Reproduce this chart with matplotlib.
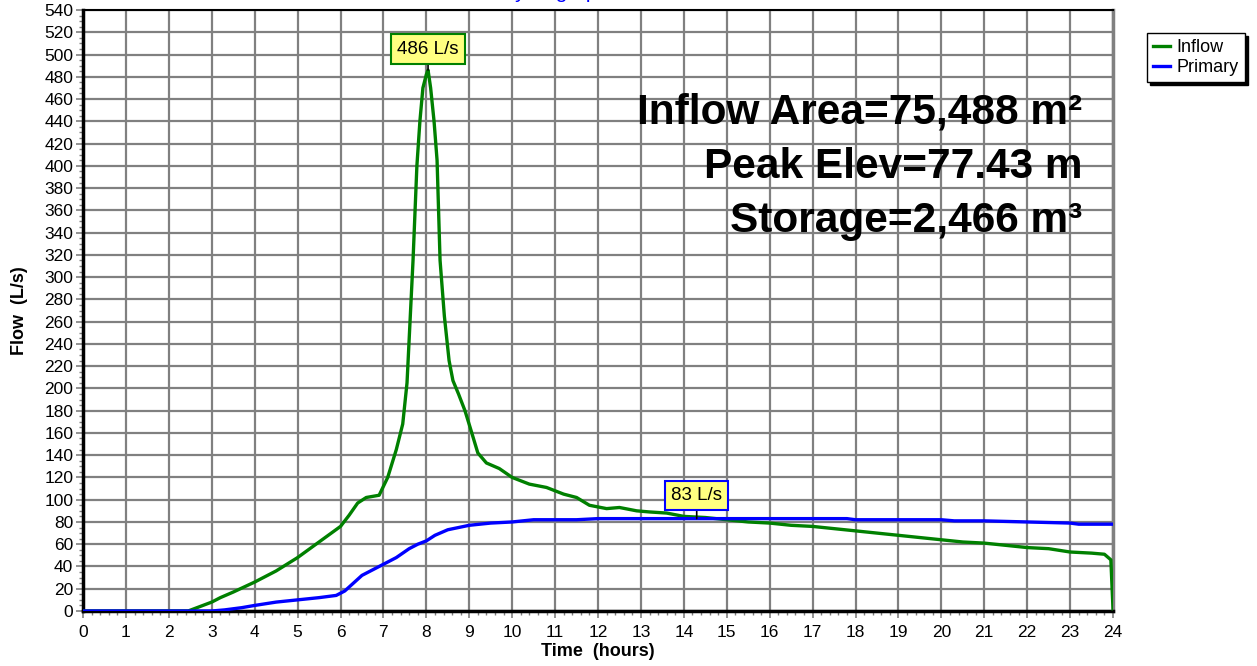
import numpy as np
import matplotlib.pyplot as plt
from matplotlib.ticker import MultipleLocator

plt.rcParams['font.family'] = ['Liberation Sans', 'DejaVu Sans']

# inflow hydrograph (hours, L/s)
inflow_t = [0, 2.45, 3.0, 3.2, 3.5, 4.0, 4.5, 5.0, 5.5, 6.0, 6.2, 6.4, 6.6, 6.9,
            7.1, 7.3, 7.45, 7.55, 7.62, 7.69, 7.78, 7.85, 7.92, 8.0, 8.04,
            8.1, 8.18, 8.25, 8.32, 8.42, 8.53, 8.62, 8.75, 8.9, 9.02, 9.2,
            9.4, 9.7, 10.0, 10.4, 10.8, 11.2, 11.5, 11.8, 12.2, 12.5, 12.9,
            13.2, 13.6, 14.0, 14.5, 15.0, 15.5, 16.0, 16.5, 17.0, 17.5, 18.0,
            18.5, 19.0, 19.5, 20.0, 20.5, 21.0, 21.5, 22.0, 22.5, 23.0, 23.5,
            23.8, 23.95, 24.0]
inflow_q = [0, 0, 8, 12, 17, 26, 36, 48, 62, 76, 86, 97, 102, 104,
            120, 145, 168, 205, 260, 315, 400, 440, 470, 482, 486,
            470, 440, 405, 315, 265, 225, 207, 195, 180, 165, 142,
            133, 128, 120, 114, 111, 105, 102, 95, 92, 93, 90,
            89, 88, 85, 84, 82, 80, 79, 77, 76, 74, 72,
            70, 68, 66, 64, 62, 61, 59, 57, 56, 53, 52,
            51, 46, 2]

# primary outflow
primary_t = [0, 3.0, 3.3, 3.7, 4.0, 4.5, 5.0, 5.5, 5.9, 6.1, 6.3, 6.5, 6.8, 7.0,
             7.3, 7.6, 7.8, 8.0, 8.2, 8.5, 9.0, 9.5, 10.0, 10.5, 11.0, 11.5,
             12.0, 13.0, 14.0, 14.3, 15.0, 16.0, 17.0, 17.8, 18.0, 19.0, 20.0,
             20.3, 21.0, 22.0, 23.0, 23.2, 24.0]
primary_q = [0, 0, 1, 3, 5, 8, 10, 12, 14, 18, 25, 32, 38, 42,
             48, 56, 60, 63, 68, 73, 77, 79, 80, 82, 82, 82,
             83, 83, 83, 83, 83, 83, 83, 83, 82, 82, 82,
             81, 81, 80, 79, 78, 78]

info_lines = ['Inflow Area=75,488 m²', 'Peak Elev=77.43 m', 'Storage=2,466 m³']

fig = plt.figure(figsize=(12.57, 6.66), dpi=100)
ax = fig.add_axes([83 / 1257, 1 - 611 / 666, 1030 / 1257, 601 / 666])

ax.plot(inflow_t, inflow_q, color='#008000', lw=2.4, label='Inflow', zorder=3)
ax.plot(primary_t, primary_q, color='#0000ff', lw=2.4, label='Primary', zorder=3)

ax.set_xlim(0, 24)
ax.set_ylim(0, 540)
ax.xaxis.set_major_locator(MultipleLocator(1))
ax.xaxis.set_minor_locator(MultipleLocator(0.2))
ax.yaxis.set_major_locator(MultipleLocator(20))
ax.yaxis.set_minor_locator(MultipleLocator(5))
ax.grid(True, which='major', color='#808080', lw=1.6)
ax.set_axisbelow(True)
ax.tick_params(which='major', direction='out', length=5, width=1.2, color='#808080',
               labelsize=12.5, pad=2)
ax.tick_params(axis='x', which='major', pad=5)
ax.tick_params(which='minor', direction='out', length=3, width=1, color='#808080')

for side in ['left', 'bottom']:
    ax.spines[side].set_linewidth(2.5)
    ax.spines[side].set_color('black')
ax.spines['top'].set_linewidth(1.5)
ax.spines['right'].set_color('#808080')
ax.spines['right'].set_linewidth(2.5)

ax.set_xlabel('Time  (hours)', fontsize=13, fontweight='bold', labelpad=2)
ax.set_ylabel('Flow  (L/s)', fontsize=13, fontweight='bold', labelpad=12)

# peak labels
i_pk = int(np.argmax(inflow_q))
ax.annotate(f'{inflow_q[i_pk]} L/s', xy=(inflow_t[i_pk], inflow_q[i_pk]),
            xytext=(0, 21), textcoords='offset pixels', ha='center', va='center',
            fontsize=13.5, zorder=5,
            bbox=dict(boxstyle='square,pad=0.33', fc='#ffff80', ec='#008000', lw=1.5),
            arrowprops=dict(arrowstyle='-', color='black', lw=1.2, shrinkA=0, shrinkB=0))
p_pk = int(np.argmax(primary_q))
ax.annotate(f'{primary_q[p_pk]} L/s', xy=(14.3, primary_q[p_pk]),
            xytext=(0, 23), textcoords='offset pixels', ha='center', va='center',
            fontsize=13.5, zorder=5,
            bbox=dict(boxstyle='square,pad=0.33', fc='#ffff80', ec='#0000ff', lw=1.5),
            arrowprops=dict(arrowstyle='-', color='black', lw=1.2, shrinkA=0, shrinkB=0))

for k, line in enumerate(info_lines):
    fig.text(1082 / 1257, 1 - (123 + 54.5 * k) / 666, line, ha='right', va='baseline',
             fontsize=30.5, fontweight='bold', zorder=6)

leg = ax.legend(loc='upper left', bbox_to_anchor=(1147 / 1257, 1 - 33 / 666),
                bbox_transform=fig.transFigure, fontsize=13, frameon=True,
                fancybox=False, edgecolor='black', framealpha=1,
                shadow={'color': 'black', 'alpha': 1}, handlelength=0.9,
                handletextpad=0.4, borderpad=0.35, labelspacing=0.15,
                borderaxespad=0)
leg.get_frame().set_linewidth(1.0)

fig.text(555 / 1257, 1.003, 'Hydrograph', ha='center', va='baseline',
         color='blue', fontsize=15)

fig.savefig('out.png', dpi=100)
